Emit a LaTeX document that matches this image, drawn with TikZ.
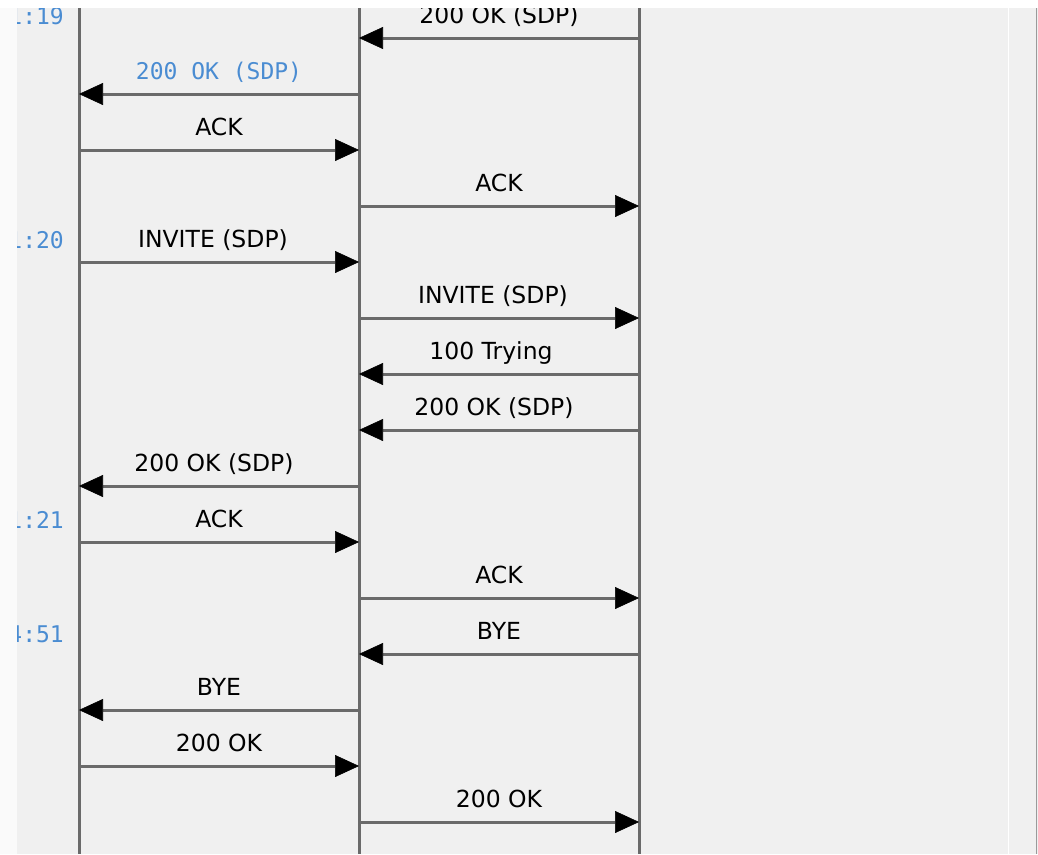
\documentclass[tikz,border=0pt]{standalone}
\usepackage{fontspec}
\setmainfont{DejaVu Sans}
\newfontfamily\monofnt{DejaVu Sans Mono}
\usetikzlibrary{arrows.meta}
\definecolor{panel}{HTML}{F0F0F0}
\definecolor{strip}{HTML}{FAFAFA}
\definecolor{lineg}{HTML}{6A6A6A}
\definecolor{tblue}{HTML}{4A8CD2}
\definecolor{edgeg}{HTML}{9A9A9A}
\begin{document}
\begin{tikzpicture}[x=1pt,y=-1pt,
  msg/.style={draw=lineg, line width=3pt, -{Triangle[length=24pt,width=22pt,color=black,line width=0.6pt]}},
  life/.style={draw=lineg, line width=3pt},
  lbl/.style={midway, anchor=base, yshift=14.5pt, inner sep=0pt, text=black, font=\fontsize{23.5}{28}\selectfont},
  bluelbl/.style={lbl, text=tblue, font=\monofnt\fontsize{23}{28}\selectfont},
  tlbl/.style={anchor=base east, inner sep=0pt, text=tblue, font=\monofnt\fontsize{23}{28}\selectfont}]
\useasboundingbox (0,0) rectangle (1038,854);
% background
\fill[strip] (0,0) rectangle (17,854);
\fill[panel] (17,8) rectangle (1038,854);
\draw[white, line width=1.5pt] (1008.5,8) -- (1008.5,854);
\draw[edgeg, line width=1.5pt] (1036.7,8) -- (1036.7,854);
% lifelines
\coordinate (aT) at (79,0);   \coordinate (aB) at (79,854);
\coordinate (bT) at (359,0);  \coordinate (bB) at (359,854);
\coordinate (cT) at (639,0);  \coordinate (cB) at (639,854);
\draw[life] (aT) -- (aB);
\draw[life] (bT) -- (bB);
\draw[life] (cT) -- (cB);
% message rows
\foreach \i/\y in {1/38,2/94,3/150,4/206,5/262,6/318,7/374,8/430,9/486,10/542,11/598,12/654,13/710,14/766,15/822}{
  \coordinate (a\i) at (79,\y);
  \coordinate (b\i) at (359,\y);
  \coordinate (c\i) at (639,\y);
}
\draw[msg] (c1) -- node[lbl]{200 OK (SDP)} (b1);
\draw[msg] (b2) -- node[bluelbl]{200 OK (SDP)} (a2);
\draw[msg] (a3) -- node[lbl]{ACK} (b3);
\draw[msg] (b4) -- node[lbl]{ACK} (c4);
\draw[msg] (a5) -- node[lbl, xshift=-6pt]{INVITE (SDP)} (b5);
\draw[msg] (b6) -- node[lbl, xshift=-6pt]{INVITE (SDP)} (c6);
\draw[msg] (c7) -- node[lbl, xshift=-8pt]{100 Trying} (b7);
\draw[msg] (c8) -- node[lbl, xshift=-5pt]{200 OK (SDP)} (b8);
\draw[msg] (b9) -- node[lbl, xshift=-5pt]{200 OK (SDP)} (a9);
\draw[msg] (a10) -- node[lbl]{ACK} (b10);
\draw[msg] (b11) -- node[lbl]{ACK} (c11);
\draw[msg] (c12) -- node[lbl]{BYE} (b12);
\draw[msg] (b13) -- node[lbl]{BYE} (a13);
\draw[msg] (a14) -- node[lbl]{200 OK} (b14);
\draw[msg] (b15) -- node[lbl]{200 OK} (c15);
% time stamps (clipped at the panel's left edge)
\begin{scope}
  \clip (17,8) rectangle (76,854);
  \node[tlbl] (t1) at (64,24) {1:19};
  \node[tlbl] (t2) at (64,248) {1:20};
  \node[tlbl] (t3) at (64,528) {1:21};
  \node[tlbl] (t4) at (64,642) {4:51};
\end{scope}
% top white band
\fill[white] (0,0) rectangle (1038,8);
\end{tikzpicture}
\end{document}
